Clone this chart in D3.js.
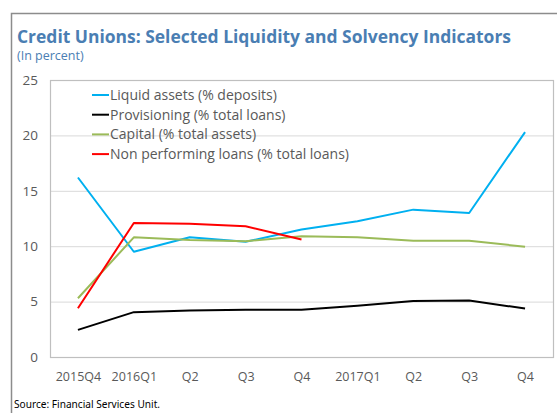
<!DOCTYPE html>
<html><head><meta charset="utf-8">
<script src="https://cdn.jsdelivr.net/npm/d3@7"></script>
<style>body{margin:0;background:#fff}svg{display:block}</style>
</head><body><svg id="c" width="557" height="413"></svg>
<script>
const categories = ["2015Q4","2016Q1","Q2","Q3","Q4","2017Q1","Q2","Q3","Q4"];
const liquidAssets = [16.2, 9.5, 10.8, 10.4, 11.5, 12.25, 13.3, 13.0, 20.3];
const provisioning = [2.45, 4.05, 4.2, 4.27, 4.27, 4.63, 5.05, 5.1, 4.37];
const capital = [5.3, 10.8, 10.55, 10.45, 10.9, 10.8, 10.5, 10.5, 9.95];
const nonPerforming = [4.4, 12.1, 12.03, 11.8, 10.6, null, null, null, null];
const yTicks = [0, 5, 10, 15, 20, 25];
const seriesNames = ["Liquid assets (% deposits)", "Provisioning (% total loans)", "Capital (% total assets)", "Non performing loans (% total loans)"];
const seriesColors = ["#00b0f0", "#000000", "#9bbb59", "#ff0000"];
const seriesData = [liquidAssets, provisioning, capital, nonPerforming];

const svg = d3.select("#c");
const font = "'Open Sans', 'Noto Sans', sans-serif";
const m = {left: 50, right: 553, top: 80, bottom: 357};

// outer frame
svg.append("path").attr("d", "M11.5,413 V13.5 H557").attr("fill","none").attr("stroke","#8c8c8c").attr("stroke-width",1.5);

const title = svg.append("text").attr("x",17).attr("y",43).attr("font-family",font).attr("font-weight","bold")
  .attr("font-size",17).attr("fill","#4a7eb3").text("Credit Unions: Selected Liquidity and Solvency Indicators");
title.attr("textLength",494).attr("lengthAdjust","spacingAndGlyphs");
svg.append("text").attr("x",17).attr("y",60).attr("font-family",font).attr("font-size",12.5)
  .attr("fill","#4a7eb3").text("(In percent)");

const x = d3.scalePoint().domain(d3.range(categories.length)).range([m.left, m.right]).padding(0.5);
const y = d3.scaleLinear().domain([0,25]).range([m.bottom, m.top]);

// gridlines
svg.append("g").selectAll("line").data(yTicks.slice(1,-1)).join("line")
  .attr("x1",m.left).attr("x2",m.right).attr("y1",d=>y(d)+0.5).attr("y2",d=>y(d)+0.5)
  .attr("stroke","#d9d9d9").attr("stroke-width",1);
// plot border
svg.append("rect").attr("x",m.left+0.5).attr("y",m.top+0.5).attr("width",m.right-m.left).attr("height",m.bottom-m.top)
  .attr("fill","none").attr("stroke","#bfbfbf").attr("stroke-width",1.2);

// y axis
const yAxis = svg.append("g").attr("transform",`translate(${m.left},0)`)
  .call(d3.axisLeft(y).tickValues(yTicks).tickSize(0).tickPadding(12));
yAxis.select(".domain").remove();
yAxis.selectAll("text").attr("font-family",font).attr("font-size",13.5).attr("fill","#595959");

// x axis
const xAxis = svg.append("g").attr("transform",`translate(0,${m.bottom})`)
  .call(d3.axisBottom(x).tickFormat(i=>categories[i]).tickSize(0).tickPadding(15));
xAxis.select(".domain").remove();
xAxis.selectAll("text").attr("font-family",font).attr("font-size",12.5).attr("fill","#595959");

// lines
const line = d3.line().defined(d=>d!=null).x((d,i)=>x(i)).y(d=>y(d));
seriesData.forEach((s,k)=>{
  svg.append("path").datum(s).attr("d",line).attr("fill","none")
    .attr("stroke",seriesColors[k]).attr("stroke-width",2).attr("stroke-linejoin","round");
});

// legend
const leg = svg.append("g");
seriesNames.forEach((n,k)=>{
  const yy = 95 + k*19.7;
  leg.append("line").attr("x1",92).attr("x2",109).attr("y1",yy).attr("y2",yy)
    .attr("stroke",seriesColors[k]).attr("stroke-width",2);
  leg.append("text").attr("x",110).attr("y",yy+5).attr("font-family",font).attr("font-size",14)
    .attr("fill","#595959").text(n);
});

svg.append("text").attr("x",14).attr("y",408).attr("font-family","'Liberation Sans Narrow', 'Noto Sans', sans-serif")
  .attr("font-size",11.5).attr("fill","#000").attr("textLength",146).attr("lengthAdjust","spacingAndGlyphs")
  .text("Source: Financial Services Unit.");
</script></body></html>
